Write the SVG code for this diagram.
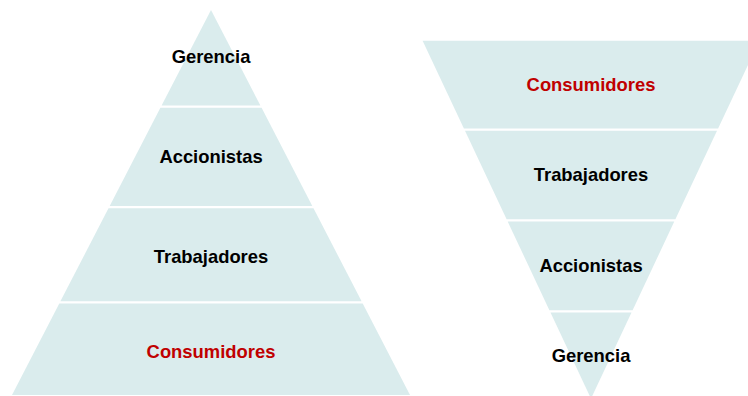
<svg xmlns="http://www.w3.org/2000/svg" width="748" height="396" viewBox="0 0 748 396">
  <style>
    .layer { fill: #DAECED; stroke: none; }
    .lbl { font-family: "Liberation Sans", Arial, sans-serif; font-size: 18.4px; font-weight: bold; fill: #000000; text-anchor: middle; }
    .red { fill: #C00000; }
  </style>
  <rect x="0" y="0" width="748" height="396" fill="#FFFFFF"/>
  <g id="pyramid-left">
    <g id="left-gerencia">
      <polygon class="layer" points="211,10 260.4,105.5 161.6,105.5"/>
      <text class="lbl" x="211" y="62.7">Gerencia</text>
    </g>
    <g id="left-accionistas">
      <polygon class="layer" points="160.4,107.8 261.6,107.8 312.3,206 109.7,206"/>
      <text class="lbl" x="211" y="163.3">Accionistas</text>
    </g>
    <g id="left-trabajadores">
      <polygon class="layer" points="108.5,208.3 313.5,208.3 361.6,301.3 60.4,301.3"/>
      <text class="lbl" x="211" y="263.3">Trabajadores</text>
    </g>
    <g id="left-consumidores">
      <polygon class="layer" points="59.3,303.5 362.7,303.5 410,395 12,395"/>
      <text class="lbl red" x="211" y="358.3">Consumidores</text>
    </g>
  </g>
  <g id="pyramid-right">
    <g id="right-consumidores">
      <polygon class="layer" points="422.6,40.7 759.4,40.7 718.1,128.5 463.9,128.5"/>
      <text class="lbl red" x="591" y="90.7">Consumidores</text>
    </g>
    <g id="right-trabajadores">
      <polygon class="layer" points="465,130.8 717,130.8 675.4,219.3 506.6,219.3"/>
      <text class="lbl" x="591" y="181">Trabajadores</text>
    </g>
    <g id="right-accionistas">
      <polygon class="layer" points="507.7,221.5 674.3,221.5 632.6,310.3 549.4,310.3"/>
      <text class="lbl" x="591" y="271.7">Accionistas</text>
    </g>
    <g id="right-gerencia">
      <polygon class="layer" points="550.5,312.5 631.5,312.5 591,398.6"/>
      <text class="lbl" x="591" y="362.3">Gerencia</text>
    </g>
  </g>
  <g id="connectors"></g>
</svg>
